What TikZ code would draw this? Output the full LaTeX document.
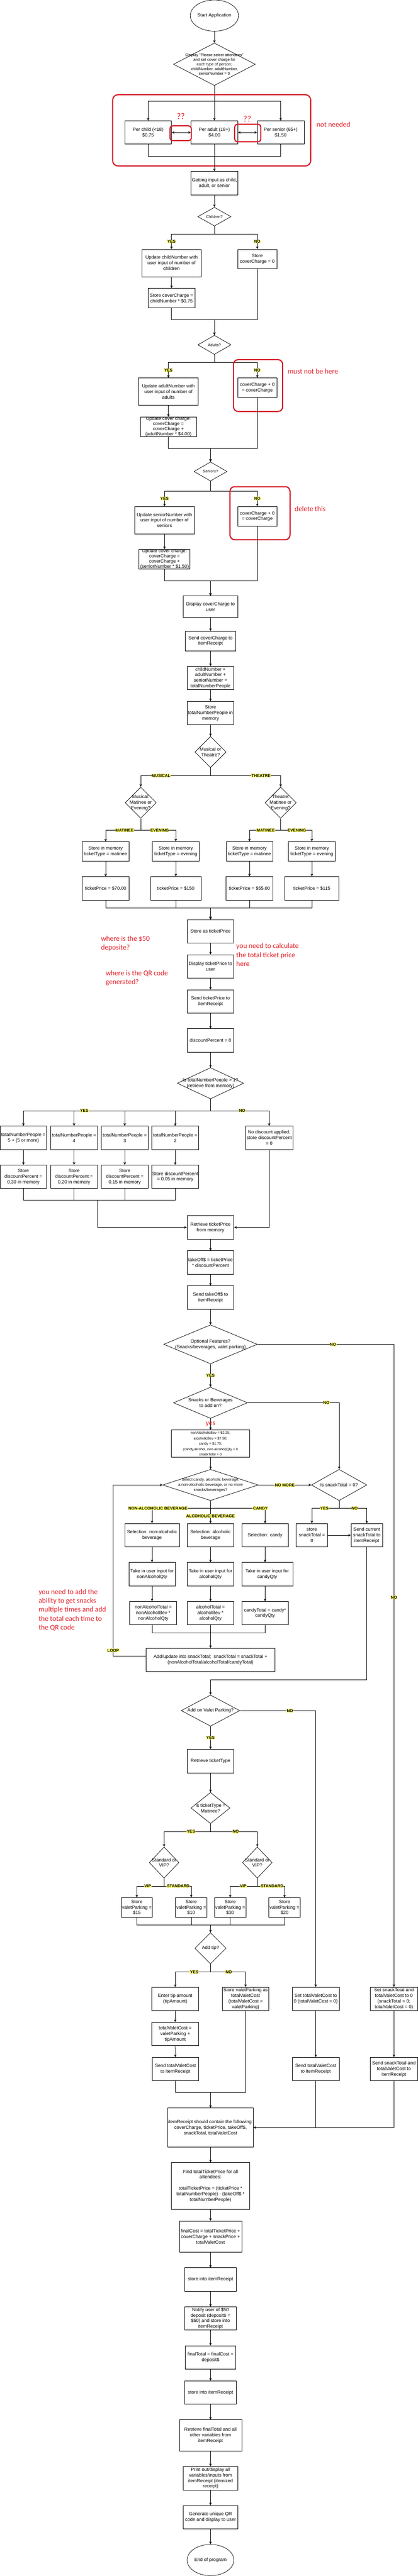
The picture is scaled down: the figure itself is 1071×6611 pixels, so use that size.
\documentclass[tikz,border=0pt]{standalone}
\usepackage{fontspec}
\setmainfont{Liberation Sans}
\newfontfamily\notefont{Carlito}
\usepackage{xcolor}
\usepackage{tikz}
\usetikzlibrary{calc}
\usetikzlibrary{shapes.geometric}
\usetikzlibrary{arrows.meta}

\definecolor{labelyellow}{RGB}{255,255,110}
\definecolor{notered}{RGB}{228,30,40}
\definecolor{framered}{RGB}{214,28,40}
\newcommand{\fsz}[2]{\fontsize{#1}{#2}\selectfont}

\tikzset{
  box/.style={draw, rectangle, align=center, inner sep=1pt, line width=1pt, font=\fsz{12}{14.4}},
  bare/.style={align=center, inner sep=0pt, font=\fsz{12}{14.4}},
  sz/.style 2 args={minimum width=#1pt, minimum height=#2pt},
  decision/.style={draw, diamond, inner sep=0pt, line width=1pt},
  term/.style={draw, ellipse, align=center, inner sep=0pt, line width=1pt, font=\fsz{12}{14.4}},
  lbl/.style={fill=labelyellow, inner sep=0.8pt, font=\fsz{10.5}{12}\bfseries},
  redlbl/.style={text=notered, inner sep=1pt, font=\notefont\fsz{18.5}{23}},
  note/.style={text=notered, align=left, anchor=north west, inner sep=0pt, font=\notefont\fsz{18.5}{23}},
  arr/.style={-{Stealth[length=7pt,width=6.5pt]}, line width=1pt},
  dblarr/.style={{Stealth[length=7pt,width=6.5pt]}-{Stealth[length=7pt,width=6.5pt]}, line width=1pt},
  ln/.style={line width=1pt},
  redframe/.style={draw=framered, line width=3pt, rounded corners=#1},
  redframe/.default=12pt,
}

\begin{document}
\begin{tikzpicture}[x=1pt, y=-1pt]
  \useasboundingbox (0,0) rectangle (1071,6611);
  \fill[white] (0,0) rectangle (1071,6611);

  % Start and cover charge setup
  \node[term, sz={120}{80}] (start) at (550,40) {Start Application};
  \node[decision, sz={210}{109}] (setup) at (550,165) {};
  \node[bare, font=\fsz{10}{12}] (setupt) at (setup) {Display "Please select attendees"\\ and set cover charge for\\ each type of person;\\ childNumber, adultNumber,\\ seniorNumber = 0};
  \draw[arr] (start) -- (setup);

  % Price boxes (marked as not needed)
  \node[box, sz={120}{60}] (child) at (380,340) {Per child (<18)\\ \$0.75};
  \node[box, sz={120}{60}] (adult) at (550,340) {Per adult (18+)\\ \$4.00};
  \node[box, sz={120}{60}] (senior) at (720,340) {Per senior (65+)\\ \$1.50};
  \draw[arr] (setup.south) -- (adult.north);
  \draw[arr] (setup.south) -- ++(0,40) -| (child.north);
  \draw[arr] (setup.south) -- ++(0,40) -| (senior.north);
  \draw[dblarr] (child) -- (adult);
  \draw[dblarr] (adult) -- (senior);
  \draw[ln] (child.south) -- ++(0,30) -| (adult.south);
  \draw[ln] (senior.south) -- ++(0,30) -| (adult.south);
  \draw[redframe=14pt] (289,243) rectangle (797,426);
  \draw[redframe=7pt] (436,323) rectangle (491,361);
  \draw[redframe=7pt] (602,319) rectangle (669,364);
  \node[redlbl, font=\notefont\fsz{22}{24}] (qmark1) at (464,298) {??};
  \node[redlbl, font=\notefont\fsz{22}{24}] (qmark2) at (634,305) {??};
  \node[redlbl, anchor=west] (notneeded) at (811,320) {not needed};

  % Children
  \node[box, sz={120}{60}] (getinput) at (550,470) {Getting input as child,\\ adult, or senior};
  \draw[arr] (adult) -- (getinput);
  \node[decision, sz={85}{48}] (kids) at (550,556) {};
  \node[bare, font=\fsz{10}{12}] (kidst) at (kids) {Children?};
  \draw[arr] (getinput) -- (kids);
  \node[box, sz={153}{70}] (kidsyes) at (440,675) {Update childNumber with\\ user input of number of\\ children};
  \node[box, sz={100}{50}] (kidsno) at (660,665) {Store\\ coverCharge = 0};
  \node[box, sz={120}{50}] (kidscc) at (440,765) {Store coverCharge =\\ childNumber * \$0.75};
  \draw[arr] (kids.south) -- ++(0,20) -| node[lbl, pos=.75] (lkids1) {YES} (kidsyes.north);
  \draw[arr] (kids.south) -- ++(0,20) -| node[lbl, pos=.75] (lkids2) {NO} (kidsno.north);
  \draw[arr] (kidsyes) -- (kidscc);

  % Adults
  \node[decision, sz={85}{49}] (grown) at (550,885) {};
  \node[bare, font=\fsz{10}{12}] (grownt) at (grown) {Adults?};
  \draw[arr] (kidscc.south) -- ++(0,30) -| (grown.north);
  \draw[arr] (kidsno.south) -- ++(0,130) -| (grown.north);
  \node[box, sz={153}{70}] (grownyes) at (432,1005) {Update adultNumber with\\ user input of number of\\ adults};
  \node[box, sz={100}{50}] (grownno) at (660,995) {coverCharge + 0\\ = coverCharge};
  \node[box, sz={145}{50}] (growncc) at (432,1095) {};
  \node[bare, font=\fsz{12}{13}] (growncct) at (growncc) {Update cover charge:\\ coverCharge =\\ coverCharge +\\ (adultNumber * \$4.00)};
  \draw[arr] (grown.south) -- ++(0,20) -| node[lbl, pos=.75] (lgrown1) {YES} (grownyes.north);
  \draw[arr] (grown.south) -- ++(0,20) -| node[lbl, pos=.75] (lgrown2) {NO} (grownno.north);
  \draw[arr] (grownyes) -- (growncc);
  \draw[redframe] (599,923) rectangle (725,1056);
  \node[redlbl, anchor=west] (mustnot) at (737,953) {must not be here};

  % Seniors
  \node[decision, sz={85}{49}] (old) at (540,1210) {};
  \node[bare, font=\fsz{10}{12}] (oldt) at (old) {Seniors?};
  \draw[arr] (growncc.south) -- ++(0,30) -| (old.north);
  \draw[arr] (grownno.south) -- ++(0,130) -| (old.north);
  \node[box, sz={154}{70}] (oldyes) at (422,1335) {Update seniorNumber with\\ user input of number of\\ seniors};
  \node[box, sz={100}{50}] (oldno) at (660,1325) {coverCharge + 0\\ = coverCharge};
  \node[box, sz={131}{50}] (oldcc) at (422,1435) {};
  \node[bare, font=\fsz{12}{13}] (oldcct) at (oldcc) {Update cover charge:\\ coverCharge =\\ coverCharge +\\ (seniorNumber * \$1.50)};
  \draw[arr] (old.south) -- ++(0,25) -| node[lbl, pos=.75] (lold1) {YES} (oldyes.north);
  \draw[arr] (old.south) -- ++(0,25) -| node[lbl, pos=.75] (lold2) {NO} (oldno.north);
  \draw[arr] (oldyes) -- (oldcc);
  \draw[redframe] (590,1249) rectangle (744,1385);
  \node[redlbl, anchor=west] (deletethis) at (755,1306) {delete this};

  % Cover charge and head count
  \node[box, sz={140}{55}] (showcc) at (540,1557) {Display coverCharge to\\ user};
  \draw[arr] (oldcc.south) -- ++(0,30) -| (showcc.north);
  \draw[arr] (oldno.south) -- ++(0,140) -| (showcc.north);
  \node[box, sz={130}{50}] (sendcc) at (540,1645) {Send coverCharge to\\ itemReceipt};
  \node[box, sz={119}{60}] (sumppl) at (540,1740) {childNumber +\\ adultNumber +\\ seniorNumber =\\ totalNumberPeople};
  \node[box, sz={119}{60}] (keepppl) at (540,1830) {Store\\ totalNumberPeople in\\ memory};
  \draw[arr] (showcc) -- (sendcc);
  \draw[arr] (sendcc) -- (sumppl);
  \draw[arr] (sumppl) -- (keepppl);

  % Show and ticket type
  \node[decision, sz={80}{80}] (show) at (540,1930) {};
  \node[bare] (showt) at (show) {Musical or\\ Theatre?};
  \node[decision, sz={80}{80}] (mus) at (361,2060) {};
  \node[bare] (must) at (mus) {Musical:\\ Matinee or\\ Evening?};
  \node[decision, sz={80}{80}] (thea) at (720,2060) {};
  \node[bare] (theat) at (thea) {Theatre:\\ Matinee or\\ Evening?};
  \draw[arr] (keepppl) -- (show);
  \draw[arr] (show.south) -- ++(0,20) -| node[lbl, pos=.355] (lshow1) {MUSICAL} (mus.north);
  \draw[arr] (show.south) -- ++(0,20) -| node[lbl, pos=.36] (lshow2) {THEATRE} (thea.north);
  \node[box, sz={120}{50}] (musmat) at (271,2185) {Store in memory\\ ticketType = matinee};
  \node[box, sz={121}{50}] (museve) at (451,2185) {Store in memory\\ ticketType = evening};
  \node[box, sz={119}{50}] (theamat) at (640,2185) {Store in memory\\ ticketType = matinee};
  \node[box, sz={121}{50}] (theaeve) at (800,2185) {Store in memory\\ ticketType = evening};
  \draw[arr] (mus.south) -- ++(0,30) -| node[lbl, pos=.23] (lmus1) {MATINEE} (musmat.north);
  \draw[arr] (mus.south) -- ++(0,30) -| node[lbl, pos=.27] (lmus2) {EVENING} (museve.north);
  \draw[arr] (thea.south) -- ++(0,30) -| node[lbl, pos=.24] (lthea1) {MATINEE} (theamat.north);
  \draw[arr] (thea.south) -- ++(0,30) -| node[lbl, pos=.26] (lthea2) {EVENING} (theaeve.north);

  % Ticket prices
  \node[box, sz={120}{60}] (musmatp) at (271,2280) {ticketPrice = \$70.00};
  \node[box, sz={130}{60}] (musevep) at (451,2280) {ticketPrice = \$150};
  \node[box, sz={120}{60}] (theamatp) at (640,2280) {ticketPrice = \$55.00};
  \node[box, sz={139}{60}] (theaevep) at (800,2280) {ticketPrice = \$115};
  \draw[arr] (musmat) -- (musmatp);
  \draw[arr] (museve) -- (musevep);
  \draw[arr] (theamat) -- (theamatp);
  \draw[arr] (theaeve) -- (theaevep);
  \node[box, sz={120}{60}] (keepprice) at (540,2390) {Store as ticketPrice};
  \draw[arr] (musmatp.south) -- ++(0,20) -| (keepprice.north);
  \draw[arr] (musevep.south) -- ++(0,20) -| (keepprice.north);
  \draw[arr] (theamatp.south) -- ++(0,20) -| (keepprice.north);
  \draw[arr] (theaevep.south) -- ++(0,20) -| (keepprice.north);
  \node[box, sz={120}{60}] (showprice) at (540,2480) {Display ticketPrice to\\ user};
  \node[box, sz={120}{60}] (sendprice) at (540,2570) {Send ticketPrice to\\ itemReceipt};
  \node[box, sz={120}{60}] (disczero) at (540,2670) {discountPercent = 0};
  \draw[arr] (keepprice) -- (showprice);
  \draw[arr] (showprice) -- (sendprice);
  \draw[arr] (sendprice) -- (disczero);

  % Review notes
  \node[note] (depnote) at (259,2402) {where is the \$50\\ deposite?};
  \node[note] (totnote) at (606,2421) {you need to calculate\\ the total ticket price\\ here};
  \node[note] (qrnote) at (271,2490) {where is the QR code\\ generated?};

  % Group discount
  \node[decision, sz={170}{80}] (many) at (540,2780) {};
  \node[bare] (manyt) at (many) {Is totalNumberPeople > 1?\\ (retrieve from memory)};
  \draw[arr] (disczero) -- (many);
  \node[box, sz={120}{60}] (ppl5) at (60,2920) {totalNumberPeople =\\ 5 + (5 or more)};
  \node[box, sz={120}{60}] (ppl4) at (190,2920) {totalNumberPeople =\\ 4};
  \node[box, sz={120}{60}] (ppl3) at (320,2920) {totalNumberPeople =\\ 3};
  \node[box, sz={121}{60}] (ppl2) at (449.5,2920) {totalNumberPeople =\\ 2};
  \node[box, sz={121}{60}] (nodisc) at (690.5,2920) {No discount applied;\\ store discountPercent\\ = 0};
  \draw[arr] (many.south) -- ++(0,30) -| (ppl4.north);
  \draw[arr] (many.south) -- ++(0,30) -| (ppl3.north);
  \draw[arr] (many.south) -- ++(0,30) -| (ppl2.north);
  \draw[arr] (many.south) -- ++(0,30) -| node[lbl, pos=.3375] (lmany1) {YES} (ppl5.north);
  \draw[arr] (many.south) -- ++(0,30) -| node[lbl, pos=.27] (lmany2) {NO} (nodisc.north);
  \node[box, sz={120}{60}] (disc30) at (60,3020) {Store\\ discountPercent =\\ 0.30 in memory};
  \node[box, sz={120}{60}] (disc20) at (190,3020) {Store\\ discountPercent =\\ 0.20 in memory};
  \node[box, sz={120}{60}] (disc15) at (320,3020) {Store\\ discountPercent =\\ 0.15 in memory};
  \node[box, sz={121}{60}] (disc05) at (449.5,3020) {Store discountPercent\\ = 0.05 in memory};
  \draw[arr] (ppl5) -- (disc30);
  \draw[arr] (ppl4) -- (disc20);
  \draw[arr] (ppl3) -- (disc15);
  \draw[arr] (ppl2) -- (disc05);
  \coordinate (discjoin) at (250,3080);
  \draw[ln] (disc30.south) |- (discjoin);
  \draw[ln] (disc20.south) |- (discjoin);
  \draw[ln] (disc15.south) |- (discjoin);
  \draw[ln] (disc05.south) |- (discjoin);
  \node[box, sz={120}{60}] (getprice) at (540,3150) {Retrieve ticketPrice\\ from memory};
  \draw[arr] (discjoin) |- (getprice.west);
  \draw[arr] (nodisc.south) |- (getprice.east);
  \node[box, sz={120}{60}] (takeoff) at (540,3240) {takeOff\$ = ticketPrice\\ * discountPercent};
  \node[box, sz={120}{60}] (sendoff) at (540,3330) {Send takeOff\$ to\\ itemReceipt};
  \draw[arr] (getprice) -- (takeoff);
  \draw[arr] (takeoff) -- (sendoff);

  % Optional features and snacks
  \node[decision, sz={240}{100}] (extras) at (540,3450) {};
  \node[bare] (extrast) at (extras) {Optional Features?\\ (Snacks/beverages, valet parking)};
  \draw[arr] (sendoff) -- (extras);
  \node[decision, sz={190}{80}] (snacks) at (540,3600) {};
  \node[bare] (snackst) at (snacks) {Snacks or Beverages\\ to add on?};
  \draw[arr] (extras) -- node[lbl] (lextras1) {YES} (snacks);
  \node[box, sz={200}{70}] (menu) at (540,3705) {};
  \node[bare, font=\fsz{9}{14}] (menut) at (menu) {nonAlcoholicBev = \$2.25;\\ alcoholicBev = \$7.50;\\ candy = \$1.75;\\ (candy,alcohol, non-alcohol)Qty = 0\\ snackTotal = 0};
  \draw[arr] (snacks) -- node[redlbl] (lsnacks1) {yes} (menu);
  \node[decision, sz={245}{80}] (pick) at (540,3811) {};
  \node[bare, font=\fsz{10}{13}] (pickt) at (pick) {Select candy, alcoholic beverage,\\ a non-alcoholic beverage, or no more\\ snacks/beverages?};
  \node[decision, sz={142}{80}] (zero) at (870,3811) {};
  \node[bare] (zerot) at (zero) {Is snackTotal = 0?};
  \draw[arr] (menu) -- (pick);
  \draw[arr] (pick) -- node[lbl] (lpick0) {NO MORE} (zero);
  \draw[arr] (snacks.east) -| node[lbl, pos=.43] (lsnacks2) {NO} (zero.north);
  \node[box, sz={140}{60}] (selnon) at (390,3940) {Selection: non-alcoholic\\ beverage};
  \node[box, sz={120}{60}] (selalc) at (540,3940) {Selection: alcoholic\\ beverage};
  \node[box, sz={120}{60}] (selcandy) at (680,3940) {Selection: candy};
  \draw[arr] (pick.south) -- ++(0,19) -| node[lbl, pos=.45] (lpick1) {NON-ALCOHOLIC BEVERAGE} (selnon.north);
  \draw[arr] (pick.south) -- ++(0,19) -| node[lbl, pos=.457] (lpick3) {CANDY} (selcandy.north);
  \draw[arr] (pick) -- node[lbl, pos=.67] (lpick2) {ALCOHOLIC BEVERAGE} (selalc);
  \node[box, sz={80}{60}] (zeroyes) at (800,3940) {store\\ snackTotal =\\ 0};
  \node[box, sz={81}{60}] (zerono) at (941,3940) {Send current\\ snackTotal to\\ itemReceipt};
  \draw[arr] (zero.south) -- ++(0,19) -| node[lbl, pos=.27] (lzero1) {YES} (zeroyes.north);
  \draw[arr] (zero.south) -- ++(0,19) -| node[lbl, pos=.28] (lzero2) {NO} (zerono.north);
  \draw[arr] (zeroyes) -- (zerono);

  % Snack quantities and totals
  \node[box, sz={119}{60}] (qtynon) at (390,4040) {Take in user input for\\ nonAlcoholQty};
  \node[box, sz={120}{60}] (qtyalc) at (540,4040) {Take in user input for\\ alcoholQty};
  \node[box, sz={131}{60}] (qtycandy) at (685.5,4040) {Take in user input for\\ candyQty};
  \draw[arr] (selnon) -- (qtynon);
  \draw[arr] (selalc) -- (qtyalc);
  \draw[arr] (selcandy.south) -- (selcandy.south |- qtycandy.north);
  \node[box, sz={120}{60}] (totnon) at (393,4140) {nonAlcoholTotal =\\ nonAlcoholBev *\\ nonAlcoholQty};
  \node[box, sz={120}{60}] (totalc) at (540,4140) {alcoholTotal =\\ alcoholBev *\\ alcoholQty};
  \node[box, sz={120}{60}] (totcandy) at (680,4140) {candyTotal = candy*\\ candyQty};
  \draw[arr] (qtynon.south) -- (qtynon.south |- totnon.north);
  \draw[arr] (qtyalc) -- (totalc);
  \draw[arr] (qtycandy.south -| totcandy.north) -- (totcandy.north);
  \node[box, sz={330}{60}] (addsnack) at (540,4260) {Add/update into snackTotal;\ \ snackTotal = snackTotal +\\ (nonAlcoholTotal/alcoholTotal/candyTotal)};
  \coordinate (snackjoin) at (540,4190);
  \draw[ln] (qtynon.south |- totnon.south) |- (snackjoin);
  \draw[ln] (totcandy.south) |- (snackjoin);
  \draw[arr] (totalc) -- (addsnack);
  \draw[arr] ([yshift=10pt]addsnack.west) -- ++(-84,0) |- node[lbl, pos=.016] (lloop) {LOOP} (pick.west);
  \node[note] (snacknote) at (99,4078) {you need to add the\\ ability to get snacks\\ multiple times and add\\ the total each time to\\ the QR code};

  % Valet parking
  \node[decision, sz={150}{80}] (valet) at (540,4390) {};
  \node[bare] (valett) at (valet) {Add on Valet Parking?};
  \draw[arr] (zerono.south) -- ++(0,340) -| (valet.north);
  \node[box, sz={120}{61}] (gettype) at (540,4520) {Retrieve ticketType};
  \draw[arr] (valet) -- node[lbl] (lvalet1) {YES} (gettype);
  \node[decision, sz={100}{80}] (matq) at (540,4640) {};
  \node[bare] (matqt) at (matq) {Is ticketType =\\ Matinee?};
  \draw[arr] (gettype) -- (matq);
  \node[decision, sz={76}{80}] (viplt) at (421,4780) {};
  \node[bare] (vipltt) at (viplt) {Standard or\\ VIP?};
  \node[decision, sz={76}{80}] (viprt) at (660,4780) {};
  \node[bare] (viprtt) at (viprt) {Standard or\\ VIP?};
  \draw[arr] (matq.south) -- ++(0,20) -| node[lbl, pos=.21] (lmatq1) {YES} (viplt.north);
  \draw[arr] (matq.south) -- ++(0,20) -| node[lbl, pos=.27] (lmatq2) {NO} (viprt.north);
  \node[box, sz={79}{50}] (park15) at (351,4895) {Store\\ valetParking =\\ \$15};
  \node[box, sz={81}{50}] (park10) at (490.5,4895) {Store\\ valetParking =\\ \$10};
  \node[box, sz={81}{50}] (park30) at (590.5,4895) {Store\\ valetParking =\\ \$30};
  \node[box, sz={80}{50}] (park20) at (730,4895) {Store\\ valetParking =\\ \$20};
  \draw[arr] (viplt.south) -- ++(0,20) -| node[lbl, pos=.3] (lvipl1) {VIP} (park15.north);
  \draw[arr] (viplt.south) -- ++(0,20) -| node[lbl, pos=.26] (lvipl2) {STANDARD} (park10.north);
  \draw[arr] (viprt.south) -- ++(0,20) -| node[lbl, pos=.26] (lvipr1) {VIP} (park30.north);
  \draw[arr] (viprt.south) -- ++(0,20) -| node[lbl, pos=.27] (lvipr2) {STANDARD} (park20.north);
  \coordinate (parkjoin) at (540,4940);
  \draw[ln] (park15.south) |- (parkjoin);
  \draw[ln] (park10.south) |- (parkjoin);
  \draw[ln] (park30.south) |- (parkjoin);
  \draw[ln] (park20.south) |- (parkjoin);
  \node[decision, sz={80}{80}] (tipq) at (540,5000) {};
  \node[bare] (tipqt) at (tipq) {Add tip?};
  \draw[arr] (parkjoin) -- (tipq);
  \node[box, sz={121}{60}] (tipin) at (449.5,5130) {Enter tip amount\\ (tipAmount)};
  \node[box, sz={120}{60}] (notip) at (630,5130) {Store valetParking as\\ totalValetCost\\ (totalValetCost =\\ valetParking)};
  \draw[arr] (tipq.south) -- ++(0,20) -| node[lbl, pos=.23] (ltip1) {YES} (tipin.north);
  \draw[arr] (tipq.south) -- ++(0,20) -| node[lbl, pos=.26] (ltip2) {NO} (notip.north);
  \node[box, sz={121}{60}] (valetsum) at (449.5,5220) {totalValetCost =\\ valetParking +\\ tipAmount};
  \node[box, sz={120}{60}] (sendvalet) at (450,5310) {Send totalValetCost\\ to itemReceipt};
  \draw[arr] (tipin) -- (valetsum);
  \draw[arr] (valetsum) -- (sendvalet);
  \coordinate (valetjoin) at (540,5370);
  \draw[ln] (sendvalet.south) |- (valetjoin);
  \draw[ln] (notip.south) |- (valetjoin);

  % No valet / no extras
  \node[box, sz={120}{60}] (novalet) at (810,5130) {Set totalValetCost to\\ 0 (totalValetCost = 0)};
  \node[box, sz={120}{60}] (sendnovalet) at (810,5310) {Send totalValetCost\\ to itemReceipt};
  \node[box, sz={121}{60}] (noextras) at (1010.5,5130) {Set snackTotal and\\ totalValetCost to 0\\ (snackTotal = 0;\\ totalValetCost = 0)};
  \node[box, sz={121}{60}] (sendnoextras) at (1010.5,5310) {Send snackTotal and\\ totalValetCost to\\ itemReceipt};
  \draw[arr] (valet.east) -| node[lbl, pos=.33] (lvalet2) {NO} (novalet.north);
  \draw[arr] (extras.east) -| node[lbl, pos=.277] (lextras2) {NO} node[lbl, pos=.697] (lextras3) {NO} (noextras.north);
  \draw[arr] (novalet) -- (sendnovalet);
  \draw[arr] (noextras) -- (sendnoextras);

  % Receipt and totals
  \node[box, sz={219}{100}] (receipt) at (540,5460) {itemReceipt should contain the following:\\ coverCharge, ticketPrice, takeOff\$,\\ snackTotal, totalValetCost};
  \draw[arr] (valetjoin) -- (receipt);
  \draw[ln] (sendnovalet.south) -- (sendnovalet.south |- receipt.east);
  \draw[arr] (sendnoextras.south) |- (receipt.east);
  \node[box, sz={200}{120}] (tickettotal) at (540,5610) {Find totalTicketPrice for all\\ attendees:\\ \mbox{}\\ totalTicketPrice = (ticketPrice *\\ totalNumberPeople) - (takeOff\$ *\\ totalNumberPeople)};
  \node[box, sz={160}{80}] (finalcost) at (540,5740) {finalCost = totalTicketPrice +\\ coverCharge + snackPrice +\\ totalValetCost};
  \node[box, sz={131}{60}] (keepcost) at (540,5850) {store into itemReceipt};
  \node[box, sz={131}{60}] (deposit) at (540,5950) {Notify user of \$50\\ deposit (deposit\$ =\\ \$50) and store into\\ itemReceipt};
  \node[box, sz={130}{60}] (finaltotal) at (540,6050) {finalTotal = finalCost +\\ deposit\$};
  \node[box, sz={131}{60}] (keeptotal) at (540,6140) {store into itemReceipt};
  \node[box, sz={160}{80}] (getall) at (540,6250) {Retrieve finalTotal and all\\ other variables from\\ itemReceipt};
  \node[box, sz={140}{60}] (printall) at (540,6360) {Print out/display all\\ variables/inputs from\\ itemReceipt (itemized\\ receipt)};
  \node[box, sz={140}{60}] (makeqr) at (540,6460) {Generate unique QR\\ code and display to user};
  \node[term, sz={120}{80}] (finish) at (540,6570) {End of program};
  \draw[arr] (receipt) -- (tickettotal);
  \draw[arr] (tickettotal) -- (finalcost);
  \draw[arr] (finalcost) -- (keepcost);
  \draw[arr] (keepcost) -- (deposit);
  \draw[arr] (deposit) -- (finaltotal);
  \draw[arr] (finaltotal) -- (keeptotal);
  \draw[arr] (keeptotal) -- (getall);
  \draw[arr] (getall) -- (printall);
  \draw[arr] (printall) -- (makeqr);
  \draw[arr] (makeqr) -- (finish);
\end{tikzpicture}
\end{document}
